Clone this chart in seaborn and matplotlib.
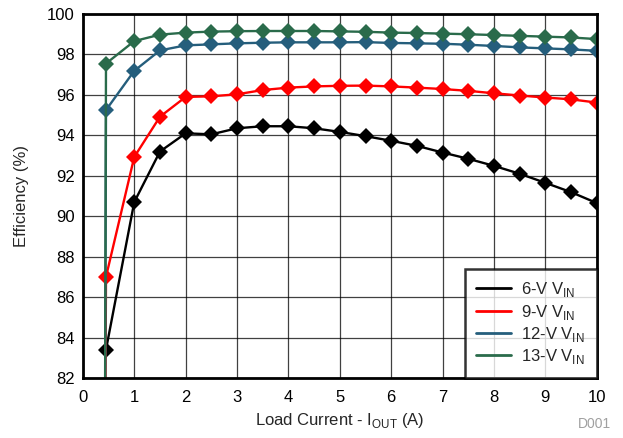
import numpy as np
import pandas as pd
import matplotlib
matplotlib.use('Agg')
import matplotlib.pyplot as plt
import seaborn as sns
from matplotlib.lines import Line2D

# load current (A); the first point of 9/12/13 V drops below the axis floor
x_6v = [0.45, 1, 1.5, 2, 2.5, 3, 3.5, 4, 4.5, 5, 5.5, 6, 6.5, 7, 7.5, 8, 8.5, 9, 9.5, 10]
x_hi = [0.42] + x_6v

eff_6v = [83.4, 90.7, 93.2, 94.1, 94.05, 94.35, 94.45, 94.45, 94.35, 94.17, 93.96,
          93.73, 93.48, 93.15, 92.84, 92.49, 92.1, 91.65, 91.19, 90.65]
eff_9v = [70.0, 87.0, 92.93, 94.92, 95.9, 95.93, 96.03, 96.24, 96.36, 96.42, 96.45, 96.46,
          96.42, 96.36, 96.29, 96.2, 96.08, 95.97, 95.87, 95.78, 95.62]
eff_12v = [70.0, 95.25, 97.19, 98.2, 98.45, 98.5, 98.55, 98.58, 98.6, 98.6, 98.6, 98.61,
           98.57, 98.55, 98.53, 98.48, 98.42, 98.35, 98.3, 98.25, 98.18]
eff_13v = [70.0, 97.55, 98.66, 98.98, 99.08, 99.13, 99.15, 99.16, 99.16, 99.16, 99.14, 99.12,
           99.08, 99.06, 99.03, 99.0, 98.96, 98.92, 98.88, 98.84, 98.76]

labels = [r'6-V V$_{\mathregular{IN}}$', r'9-V V$_{\mathregular{IN}}$',
          r'12-V V$_{\mathregular{IN}}$', r'13-V V$_{\mathregular{IN}}$']
colors = ['#000000', '#ff0000', '#255e7c', '#2a6b4b']
series = [(x_6v, eff_6v), (x_hi, eff_9v), (x_hi, eff_12v), (x_hi, eff_13v)]

sns.set_style('white')
plt.rcParams['font.family'] = ['Liberation Sans', 'DejaVu Sans']
plt.rcParams['mathtext.fontset'] = 'custom'
plt.rcParams['mathtext.rm'] = 'Liberation Sans'

fig = plt.figure(figsize=(6.23, 4.38), dpi=100)
ax = fig.add_axes([0.133, 0.137, 0.825, 0.831])

for (xs, ys), c, lab in zip(series, colors, labels):
    df = pd.DataFrame({'x': xs, 'y': ys})
    sns.lineplot(df, x='x', y='y', ax=ax, color=c, marker='D', markersize=8,
                 markeredgewidth=0, linewidth=1.7, legend=False)

ax.set_xlim(0, 10)
ax.set_ylim(82, 100)
ax.set_xticks(np.arange(0, 11, 1))
ax.set_yticks(np.arange(82, 101, 2))
ax.grid(True, color='black', linewidth=0.9, alpha=0.75)
ax.set_axisbelow(True)
ax.tick_params(length=0, labelsize=12, colors='black')
ax.tick_params(axis='x', pad=9)
ax.tick_params(axis='y', pad=6)
for s in ax.spines.values():
    s.set_linewidth(2)
    s.set_color('black')

ax.set_xlabel(r'Load Current - I$_{\mathregular{OUT}}$ (A)', fontsize=12, labelpad=4)
ax.set_ylabel('Efficiency (%)', fontsize=12, labelpad=13)

handles = [Line2D([0], [0], color=c, linewidth=2) for c in colors]
leg = ax.legend(handles, labels, loc='lower right', fontsize=12, frameon=True,
                fancybox=False, borderaxespad=0, handlelength=2.1, labelspacing=0.2,
                borderpad=0.7, handletextpad=0.6)
leg.get_frame().set_edgecolor('black')
leg.get_frame().set_linewidth(1.8)

fig.text(0.98, 0.015, 'D001', color='#a0a0a0', fontsize=10, ha='right', va='bottom')

fig.savefig('out.png', dpi=100)
